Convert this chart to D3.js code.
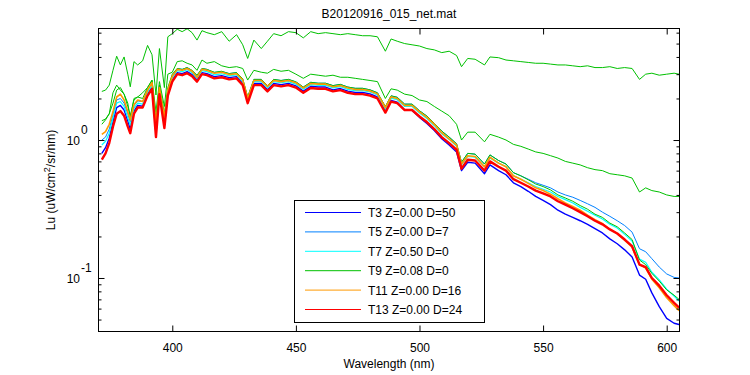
<!DOCTYPE html>
<html><head><meta charset="utf-8">
<script src="https://cdn.jsdelivr.net/npm/d3@7"></script>
<style>
body{margin:0;background:#fff}
text{font-family:"Liberation Sans",Arial,Helvetica,sans-serif;fill:#000}
</style>
</head><body>
<svg id="chart" width="750" height="375"></svg>
<script>
// ---------- data ----------
const wavelengths = [
 371.5,373,374.5,376,377.5,379,380.5,382,383,384.5,
 386,388,390,391.8,393.4,394.8,396.8,398.2,400,402,
 404,406,408,410,412,414,417,420,423,426,
 428.5,430.5,433,436,438.5,441,444,447,450,453,
 456,459,462,465,468,471,474,477,480,483,
 486.2,488.5,491,494,497,500,503,506,509,512,
 515,517,519.5,522.5,526.3,528.5,532,535,538,541,
 544,547,550,553,556,559,562,565,568,571,
 574,577,580,583,586,589,591.5,594,597,600,
 603,605];

const T3 = [
 0.80,0.88,1.03,1.35,1.72,1.78,1.65,1.37,1.20,1.62,
 1.78,1.76,2.15,2.42,1.10,2.22,1.27,2.16,2.72,3.08,
 3.03,3.13,2.98,2.72,3.08,3.03,2.88,2.93,2.83,2.88,
 2.57,1.90,2.57,2.57,2.31,2.57,2.52,2.57,2.47,2.26,
 2.45,2.42,2.42,2.31,2.36,2.26,2.21,2.21,2.16,2.05,
 1.62,1.94,1.88,1.66,1.64,1.46,1.32,1.17,1.02,0.92,
 0.82,0.60,0.69,0.68,0.57,0.66,0.60,0.56,0.49,0.46,
 0.425,0.39,0.365,0.34,0.31,0.29,0.275,0.26,0.245,0.228,
 0.212,0.192,0.177,0.16,0.142,0.105,0.098,0.078,0.062,0.051,
 0.047,0.046];

const T5 = [
 1.00,1.05,1.20,1.52,1.95,2.00,1.85,1.55,1.35,1.78,
 1.92,1.90,2.30,2.58,1.25,2.38,1.40,2.30,2.92,3.30,
 3.25,3.35,3.18,2.92,3.30,3.25,3.08,3.13,3.03,3.08,
 2.75,2.04,2.75,2.75,2.48,2.75,2.70,2.75,2.64,2.42,
 2.62,2.58,2.58,2.48,2.53,2.42,2.37,2.37,2.31,2.20,
 1.74,2.09,2.04,1.82,1.82,1.63,1.49,1.32,1.16,1.05,
 0.94,0.69,0.80,0.79,0.67,0.78,0.71,0.67,0.58,0.55,
 0.52,0.49,0.47,0.45,0.42,0.40,0.385,0.365,0.345,0.325,
 0.30,0.28,0.26,0.24,0.215,0.163,0.155,0.138,0.12,0.107,
 0.101,0.100];

const T7 = [
 0.92,0.98,1.12,1.45,1.85,1.90,1.75,1.45,1.28,1.70,
 1.85,1.82,2.22,2.50,1.18,2.30,1.35,2.22,2.82,3.18,
 3.13,3.23,3.07,2.81,3.18,3.13,2.97,3.02,2.92,2.97,
 2.65,1.96,2.65,2.65,2.39,2.65,2.60,2.65,2.54,2.33,
 2.52,2.49,2.49,2.39,2.44,2.33,2.28,2.28,2.23,2.12,
 1.67,2.01,1.96,1.75,1.75,1.57,1.43,1.27,1.11,1.01,
 0.90,0.66,0.76,0.75,0.64,0.74,0.68,0.64,0.55,0.52,
 0.49,0.46,0.44,0.42,0.39,0.37,0.35,0.325,0.305,0.285,
 0.268,0.245,0.23,0.207,0.185,0.137,0.13,0.11,0.097,0.083,
 0.074,0.068];

const T9 = [
 1.38,1.42,1.55,1.85,2.30,2.40,2.15,1.75,1.50,1.95,
 2.05,2.00,2.40,2.70,1.40,2.50,1.55,2.40,3.00,3.30,
 3.25,3.35,3.20,2.95,3.30,3.25,3.10,3.15,3.03,3.08,
 2.78,2.05,2.75,2.75,2.48,2.75,2.70,2.75,2.64,2.42,
 2.62,2.58,2.58,2.48,2.53,2.42,2.37,2.37,2.31,2.20,
 1.75,2.09,2.04,1.82,1.82,1.63,1.49,1.32,1.16,1.05,
 0.94,0.69,0.80,0.79,0.67,0.78,0.71,0.67,0.58,0.55,
 0.515,0.48,0.46,0.435,0.40,0.38,0.36,0.335,0.315,0.29,
 0.275,0.25,0.235,0.212,0.19,0.135,0.125,0.108,0.095,0.082,
 0.075,0.070];

const T9mid = [
 1.30,1.40,1.55,2.20,2.50,2.30,2.15,1.85,1.44,2.00,
 2.05,2.20,2.40,2.72,1.60,2.65,1.75,3.00,3.10,3.70,
 3.75,3.60,3.50,3.20,3.80,3.60,3.70,3.45,3.35,3.40,
 3.30,2.72,3.20,3.10,3.05,3.25,3.15,3.20,3.00,2.80,
 3.00,2.95,2.90,2.95,2.85,2.85,2.80,2.75,2.70,2.65,
 2.00,2.35,2.30,2.15,2.10,1.95,1.90,1.75,1.62,1.50,
 1.30,1.00,1.14,1.14,0.97,1.10,1.05,1.00,0.93,0.90,
 0.86,0.82,0.80,0.77,0.74,0.70,0.68,0.66,0.63,0.61,
 0.60,0.57,0.56,0.55,0.53,0.42,0.45,0.43,0.42,0.40,
 0.39,0.39];

const T9top = [
 2.25,2.30,2.50,3.20,4.05,3.50,4.00,3.00,2.43,3.70,
 3.50,3.75,4.85,4.15,2.12,4.60,2.40,5.60,5.90,6.35,
 6.10,6.40,6.00,5.30,6.20,6.00,5.80,6.10,5.20,5.80,
 4.90,3.90,5.30,4.60,5.20,5.90,5.70,6.10,6.00,5.50,
 6.10,5.90,6.00,5.90,5.80,5.90,5.80,5.70,5.70,5.60,
 4.40,5.40,5.20,5.00,4.90,4.80,4.60,4.50,4.30,4.40,
 4.10,3.40,3.90,3.85,3.50,4.00,3.95,3.80,3.75,3.70,
 3.65,3.60,3.60,3.55,3.50,3.50,3.45,3.40,3.45,3.35,
 3.35,3.40,3.30,3.35,3.30,2.75,3.00,3.05,2.95,3.00,
 3.05,3.00];

const T11 = [
 1.10,1.15,1.30,1.60,2.05,2.15,1.95,1.60,1.40,1.80,
 1.95,1.90,2.30,2.60,1.30,2.40,1.45,2.30,2.90,3.25,
 3.20,3.30,3.15,2.85,3.25,3.20,3.05,3.10,2.98,3.02,
 2.72,2.00,2.70,2.70,2.45,2.70,2.65,2.70,2.60,2.38,
 2.57,2.54,2.54,2.43,2.48,2.38,2.32,2.32,2.27,2.16,
 1.72,2.05,2.00,1.78,1.78,1.60,1.46,1.30,1.13,1.02,
 0.92,0.67,0.77,0.76,0.64,0.75,0.68,0.64,0.55,0.52,
 0.485,0.45,0.43,0.405,0.375,0.35,0.33,0.31,0.285,0.265,
 0.248,0.226,0.21,0.188,0.167,0.125,0.118,0.098,0.085,0.072,
 0.063,0.058];

const T13 = [
 0.72,0.80,0.95,1.25,1.55,1.62,1.50,1.25,1.12,1.55,
 1.72,1.72,2.10,2.35,1.05,2.15,1.22,2.10,2.65,3.00,
 2.95,3.05,2.90,2.65,3.00,2.95,2.80,2.85,2.75,2.80,
 2.50,1.85,2.50,2.50,2.25,2.50,2.45,2.50,2.40,2.20,
 2.38,2.35,2.35,2.25,2.30,2.20,2.15,2.15,2.10,2.00,
 1.58,1.90,1.85,1.65,1.65,1.48,1.35,1.20,1.05,0.95,
 0.85,0.62,0.72,0.71,0.60,0.70,0.64,0.60,0.52,0.49,
 0.46,0.43,0.41,0.39,0.36,0.34,0.32,0.30,0.28,0.26,
 0.245,0.225,0.21,0.19,0.17,0.125,0.12,0.10,0.088,0.075,
 0.066,0.061];

const seriesNames = ["T3 Z=0.00 D=50","T5 Z=0.00 D=7","T7 Z=0.50 D=0","T9 Z=0.08 D=0","T11 Z=0.00 D=16","T13 Z=0.00 D=24"];
const seriesLines = [[T3],[T5],[T7],[T9, T9mid, T9top],[T11],[T13]];
const xTickValues = [400,450,500,550,600];
const yMajorTicks = [0.1, 1];
const yExponents = ["-1","0"];
const yMinorTicks = [0.05,0.06,0.07,0.08,0.09,0.2,0.3,0.4,0.5,0.6,0.7,0.8,0.9,2,3,4,5,6];
const titleText = "B20120916_015_net.mat";
const xLabelText = "Wavelength (nm)";

// ---------- styles ----------
const colors = ["#0000ff","#0080ff","#00ffff","#00c000","#ff9900","#ff0000"];
const widths = [1.4,1,1.2,1,1.6,2.4];

const L = 98.5, R = 679.5, T = 28.5, B = 331.5;
const svg = d3.select("#chart");
const x = d3.scaleLinear().domain([370.15, 605.18]).range([L, R]);
const y = d3.scaleLog().domain([0.04095, 6.43]).range([B, T]);

svg.append("defs").append("clipPath").attr("id","clip")
  .append("rect").attr("x",L).attr("y",T).attr("width",R-L).attr("height",B-T);

const plot = svg.append("g").attr("clip-path","url(#clip)");
const line = d3.line().x((d,i)=>x(wavelengths[i])).y(d=>y(d));
seriesLines.forEach((lines,si)=>{
  lines.forEach(arr=>{
    plot.append("path").datum(arr).attr("d",line)
      .attr("fill","none").attr("stroke",colors[si])
      .attr("stroke-width",widths[si]).attr("stroke-linejoin","round");
  });
});

// axes
function clean(g){ g.select(".domain").remove(); g.selectAll("line").attr("stroke","#000"); g.selectAll("text").attr("font-size","12px").attr("font-family","Liberation Sans, Arial, sans-serif"); }
svg.append("g").attr("transform",`translate(0,${B})`)
  .call(d3.axisBottom(x).tickValues(xTickValues).tickSize(-6).tickPadding(12).tickFormat(d3.format("d")))
  .call(clean);
svg.append("g").attr("transform",`translate(0,${T})`)
  .call(d3.axisTop(x).tickValues(xTickValues).tickSize(-6).tickFormat(""))
  .call(clean);
svg.append("g").attr("transform",`translate(${L},0)`)
  .call(d3.axisLeft(y).tickValues(yMajorTicks).tickSize(-6).tickFormat(""))
  .call(clean);
svg.append("g").attr("transform",`translate(${L},0)`)
  .call(d3.axisLeft(y).tickValues(yMinorTicks).tickSize(-3).tickFormat(""))
  .call(clean);
svg.append("g").attr("transform",`translate(${R},0)`)
  .call(d3.axisRight(y).tickValues(yMajorTicks).tickSize(-6).tickFormat(""))
  .call(clean);
svg.append("g").attr("transform",`translate(${R},0)`)
  .call(d3.axisRight(y).tickValues(yMinorTicks).tickSize(-3).tickFormat(""))
  .call(clean);

svg.append("rect").attr("x",L).attr("y",T).attr("width",R-L).attr("height",B-T)
  .attr("fill","none").attr("stroke","#000").attr("stroke-width",1);

// y tick labels 10^n
yMajorTicks.forEach((v,i)=>{
  svg.append("text").attr("x",80).attr("y",y(v)+5).attr("text-anchor","end")
    .attr("font-size","12px").text("10");
  svg.append("text").attr("x",81).attr("y",y(v)-6).attr("text-anchor","start")
    .attr("font-size","12px").text(yExponents[i]);
});

// title & labels
svg.append("text").attr("x",(L+R)/2).attr("y",18).attr("text-anchor","middle")
  .attr("font-size","12px").text(titleText);
svg.append("text").attr("x",(L+R)/2).attr("y",368).attr("text-anchor","middle")
  .attr("font-size","12px").text(xLabelText);
const yl = svg.append("text").attr("transform",`translate(55,${(T+B)/2}) rotate(-90)`)
  .attr("text-anchor","middle").attr("font-size","12px");
yl.append("tspan").text("Lu (uW/cm");
yl.append("tspan").attr("dy",-5).attr("font-size","9px").text("2");
yl.append("tspan").attr("dy",5).text("/sr/nm)");

// legend
const lg = svg.append("g");
lg.append("rect").attr("x",294.5).attr("y",200.5).attr("width",190).attr("height",122)
  .attr("fill","#fff").attr("stroke","#000");
seriesNames.forEach((n,i)=>{
  const yy = 212.5 + i*19.4;
  lg.append("line").attr("x1",305).attr("x2",361).attr("y1",yy).attr("y2",yy)
    .attr("stroke",colors[i]).attr("stroke-width",1);
  lg.append("text").attr("x",368).attr("y",yy+4.5).attr("font-size","12px").text(n);
});
</script>
</body></html>
